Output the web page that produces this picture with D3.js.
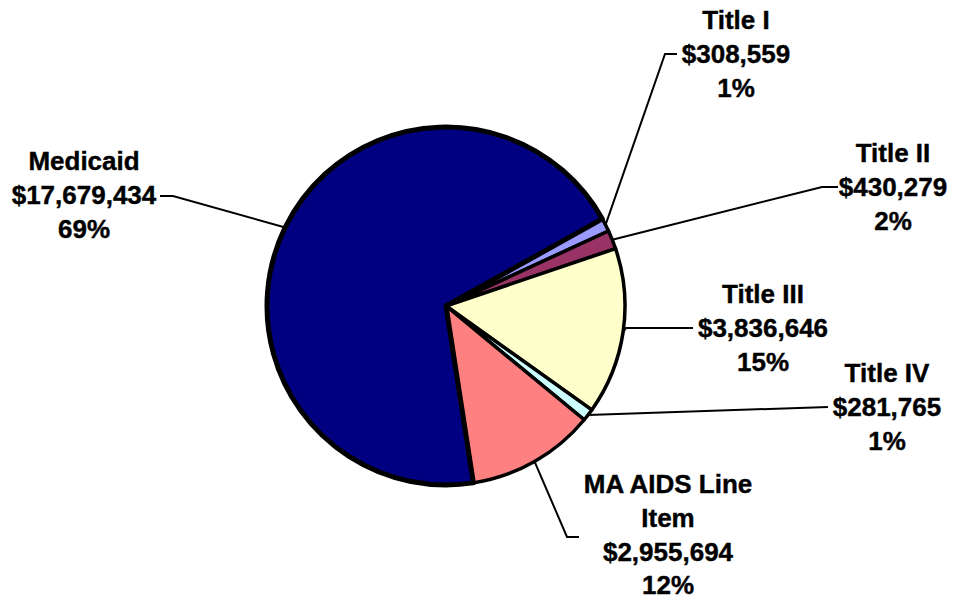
<!DOCTYPE html>
<html>
<head>
<meta charset="utf-8">
<script src="https://cdn.jsdelivr.net/npm/d3@7"></script>
<style>
  body { margin: 0; background: #ffffff; }
  svg { display: block; }
</style>
</head>
<body>
<div id="chart"></div>
<script>
//data for the slices, in drawing order (clockwise)
var names = ["Medicaid", "Title I", "Title II", "Title III", "Title IV", "MA AIDS Line Item"];
var amounts = [17679434, 308559, 430279, 3836646, 281765, 2955694];
var percents = ["69%", "1%", "2%", "15%", "1%", "12%"];

//colours of the slices
var colors = ["#000080", "#9999FF", "#993366", "#FFFFCC", "#CCFFFF", "#FF8080"];

//label layout: text lines, centre x, first baseline, elbow point of the leader line
var labelLines = [
    ["Medicaid", "$17,679,434", "69%"],
    ["Title I", "$308,559", "1%"],
    ["Title II", "$430,279", "2%"],
    ["Title III", "$3,836,646", "15%"],
    ["Title IV", "$281,765", "1%"],
    ["MA AIDS Line", "Item", "$2,955,694", "12%"]
];
var labelX = [84, 736, 893, 763, 887, 668];
var labelY = [170, 29, 162, 303, 382, 493];
//leader line: [elbow x, elbow y, end x]
var leader = [
    [173, 196, 160],
    [665, 54, 677],
    [822, 187, 838],
    [626, 328, 693],
    [828, 407, 828],
    [567, 537, 579]
];

var width = 954;
var height = 603;
var cx = 446;
var cy = 306;
var radius = 179;
var startDeg = 171.2;

var svg = d3.select("#chart")
    .append("svg")
    .attr("width", width)
    .attr("height", height);

var pie = d3.pie()
    .sort(null)
    .value(function (d) { return d; })
    .startAngle(startDeg * Math.PI / 180)
    .endAngle(startDeg * Math.PI / 180 + 2 * Math.PI);

var arcs = pie(amounts);

var arc = d3.arc()
    .innerRadius(0)
    .outerRadius(radius);

var g = svg.append("g")
    .attr("transform", "translate(" + cx + "," + cy + ")");

//small slices first, Medicaid drawn last so its thick border sits on top
var order = [1, 2, 3, 4, 5, 0];
g.selectAll("path.slice")
    .data(order.map(function (i) { return arcs[i]; }))
    .enter().append("path")
        .attr("class", "slice")
        .attr("d", arc)
        .style("fill", function (d) { return colors[d.index]; })
        .style("stroke", "#000000")
        .style("stroke-width", function (d) { return d.index == 0 ? 5 : 3.5; })
        .style("stroke-linejoin", "round");

//leader lines, starting on the pie edge at the middle of each slice
var lines = svg.append("g");
arcs.forEach(function (d, i) {
    var mid = (d.startAngle + d.endAngle) / 2;
    var x0 = cx + radius * Math.sin(mid);
    var y0 = cy - radius * Math.cos(mid);
    var p = leader[i];
    lines.append("polyline")
        .attr("points", x0 + "," + y0 + " " + p[0] + "," + p[1] + " " + p[2] + "," + p[1])
        .style("fill", "none")
        .style("stroke", "#000000")
        .style("stroke-width", 2);
});

//labels
var labels = svg.append("g")
    .style("font-family", "Arial, 'Liberation Sans', sans-serif")
    .style("font-weight", "bold")
    .style("font-size", "26px")
    .style("fill", "#000000")
    .style("stroke", "#000000")
    .style("stroke-width", 0.4);

labelLines.forEach(function (linesOfText, i) {
    var t = labels.append("text")
        .attr("text-anchor", "middle");
    linesOfText.forEach(function (s, j) {
        t.append("tspan")
            .attr("x", labelX[i])
            .attr("y", labelY[i] + j * 33.8)
            .text(s);
    });
});
</script>
</body>
</html>
